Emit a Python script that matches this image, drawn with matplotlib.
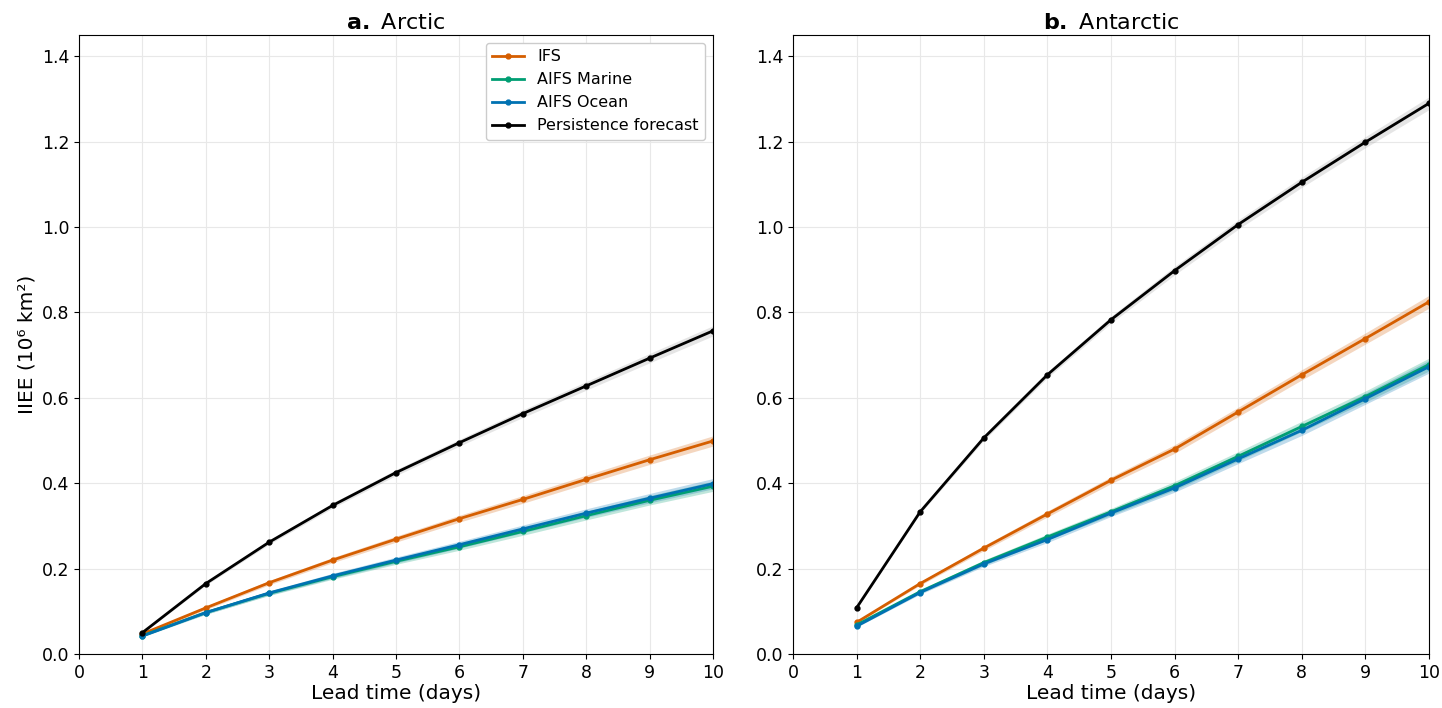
import numpy as np
import matplotlib
matplotlib.use("Agg")
import matplotlib.pyplot as plt

# Lead times (days)
lead = np.arange(1, 11)

# Arctic IIEE (10^6 km^2)
arc_ifs = [0.047, 0.108, 0.167, 0.220, 0.269, 0.317, 0.362, 0.409, 0.455, 0.499]
arc_marine = [0.043, 0.097, 0.142, 0.181, 0.217, 0.251, 0.287, 0.324, 0.360, 0.393]
arc_ocean = [0.042, 0.097, 0.143, 0.183, 0.220, 0.256, 0.293, 0.330, 0.365, 0.399]
arc_persist = [0.050, 0.165, 0.262, 0.348, 0.425, 0.495, 0.563, 0.628, 0.693, 0.757]

# Antarctic IIEE (10^6 km^2)
ant_ifs = [0.074, 0.165, 0.248, 0.328, 0.407, 0.480, 0.567, 0.654, 0.739, 0.825]
ant_marine = [0.068, 0.146, 0.214, 0.274, 0.333, 0.394, 0.463, 0.533, 0.603, 0.678]
ant_ocean = [0.065, 0.144, 0.211, 0.268, 0.330, 0.389, 0.457, 0.524, 0.598, 0.673]
ant_persist = [0.108, 0.333, 0.506, 0.654, 0.783, 0.898, 1.006, 1.105, 1.199, 1.290]

# Half-width of the uncertainty band
arc_spread = [0.002, 0.004, 0.005, 0.006, 0.007, 0.008, 0.009, 0.010, 0.011, 0.012]
ant_spread = [0.002, 0.004, 0.006, 0.007, 0.008, 0.010, 0.011, 0.012, 0.013, 0.015]

labels = ["IFS", "AIFS Marine", "AIFS Ocean", "Persistence forecast"]
colors = ["#d55e00", "#009e73", "#0072b2", "black"]

plt.rcParams['font.family'] = 'DejaVu Sans'

fig = plt.figure(figsize=(14.42, 7.08), dpi=100)
ax1 = fig.add_axes([0.0548, 0.0763, 0.4397, 0.8743])
ax2 = fig.add_axes([0.5499, 0.0763, 0.4411, 0.8743])


def draw_panel(ax, series, spread, letter, name):
    for vals, lab, col in zip(series, labels, colors):
        vals = np.array(vals)
        sp = np.array(spread)
        ax.fill_between(lead, vals - sp, vals + sp, color=col if col != "black" else "gray",
                        alpha=0.25 if col != "black" else 0.2, lw=0)
        ax.plot(lead, vals, color=col, lw=2, marker='o', ms=3.5, label=lab)
    ax.set_xlim(0, 10)
    ax.set_ylim(0, 1.45)
    ax.set_xticks(range(0, 11))
    ax.set_yticks(np.arange(0, 1.41, 0.2))
    ax.yaxis.set_major_formatter(matplotlib.ticker.FormatStrFormatter('%.1f'))
    ax.grid(True, color='#e8e8e8', lw=0.8)
    ax.set_axisbelow(True)
    ax.tick_params(labelsize=12.5)
    ax.set_xlabel("Lead time (days)", fontsize=14.5, labelpad=2)
    ax.set_title(r"$\bf{" + letter + r".}$ " + name, fontsize=16, pad=4)


draw_panel(ax1, [arc_ifs, arc_marine, arc_ocean, arc_persist], arc_spread, "a", "Arctic")
draw_panel(ax2, [ant_ifs, ant_marine, ant_ocean, ant_persist], ant_spread, "b", "Antarctic")

ax1.set_ylabel("IIEE (10⁶ km²)", fontsize=14.5)
ax1.legend(loc='upper right', fontsize=11.5, framealpha=1, handlelength=2)

fig.savefig("out.png", dpi=100)
